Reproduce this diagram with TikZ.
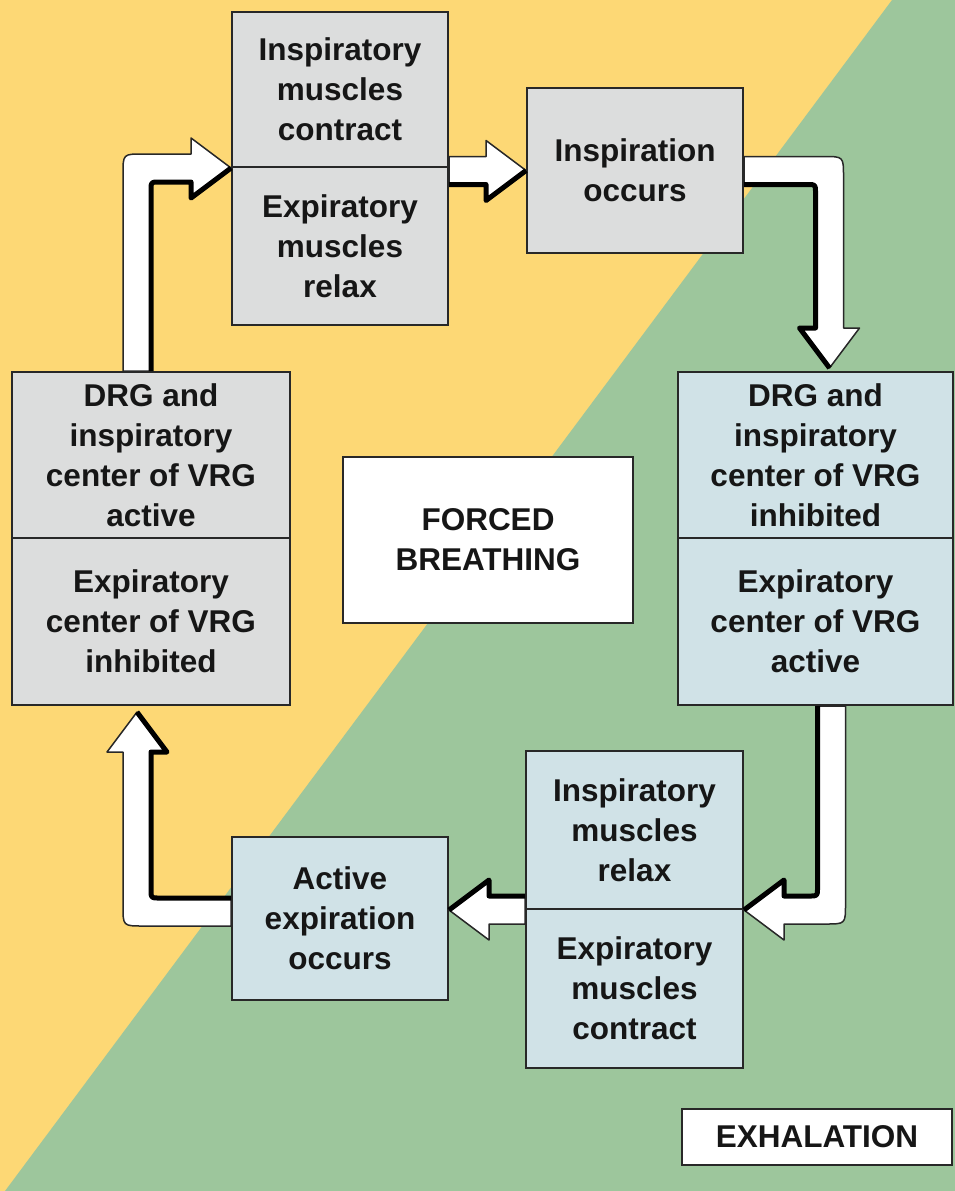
\documentclass[tikz,border=0pt]{standalone}
\usepackage{fontspec}
\usetikzlibrary{calc}
\newfontfamily\labelfont{Liberation Sans}

\definecolor{bgyellow}{RGB}{253,216,117}
\definecolor{bggreen}{RGB}{157,198,156}
\definecolor{boxgray}{RGB}{220,221,221}
\definecolor{boxblue}{RGB}{208,226,231}
\definecolor{inkc}{RGB}{22,22,22}
\definecolor{edgec}{RGB}{40,40,40}

\tikzset{
  stage/.style={draw=edgec, line width=2pt, inner sep=0pt, align=center,
    text=inkc, font={\labelfont\bfseries\fontsize{31.5}{40}\selectfont}},
  graystage/.style={stage, fill=boxgray},
  bluestage/.style={stage, fill=boxblue},
  whitestage/.style={stage, fill=white},
  arrowbody/.style={fill=white, draw=edgec, line width=1.5pt, line join=round},
  arrowedge/.style={draw=black, line width=5pt, line join=round}
}

\begin{document}
\begin{tikzpicture}[x=1pt, y=-1pt]
\useasboundingbox (0,0) rectangle (955,1191);

% two-colour background split along the diagonal
\fill[bgyellow] (0,0) rectangle (955,1191);
\fill[bggreen] (892,0) -- (955,0) -- (955,1191) -- (5,1191) -- cycle;

% stages of the cycle
\node[graystage, minimum width=216pt, minimum height=155pt] (A1) at (340,89.5)
  {Inspiratory\\muscles\\contract};
\node[graystage, minimum width=216pt, minimum height=158pt] (A2) at (340,246)
  {Expiratory\\muscles\\relax};
\node[graystage, minimum width=216pt, minimum height=165pt] (B) at (635,170.5)
  {Inspiration\\occurs};
\node[bluestage, minimum width=275pt, minimum height=166pt] (C1) at (815.5,455)
  {DRG and\\inspiratory\\center of VRG\\inhibited};
\node[bluestage, minimum width=275pt, minimum height=167pt] (C2) at (815.5,621.5)
  {Expiratory\\center of VRG\\active};
\node[graystage, minimum width=278pt, minimum height=166pt] (D1) at (151,455)
  {DRG and\\inspiratory\\center of VRG\\active};
\node[graystage, minimum width=278pt, minimum height=167pt] (D2) at (151,621.5)
  {Expiratory\\center of VRG\\inhibited};
\node[whitestage, minimum width=290pt, minimum height=166pt] (E) at (488,540)
  {FORCED\\BREATHING};
\node[bluestage, minimum width=217pt, minimum height=158pt] (F1) at (634.5,830)
  {Inspiratory\\muscles\\relax};
\node[bluestage, minimum width=217pt, minimum height=159pt] (F2) at (634.5,988.5)
  {Expiratory\\muscles\\contract};
\node[bluestage, minimum width=216pt, minimum height=163pt] (G) at (340,918.5)
  {Active\\expiration\\occurs};
\node[whitestage, minimum width=270pt, minimum height=56pt] (H) at (817,1137)
  {EXHALATION};

% connector anchors
\coordinate (s1) at ($(D1.north)+(-14,0)$);
\coordinate (t1) at (A1.south west);
\coordinate (c1) at (s1 |- t1);
\coordinate (s2) at (A1.east |- B.west);
\coordinate (t2) at (B.west);
\coordinate (s3) at (B.east);
\coordinate (t3) at ($(C1.north)+(14,-3)$);
\coordinate (c3) at (t3 |- s3);
\coordinate (s4) at ($(C2.south)+(16,0)$);
\coordinate (t4) at (F1.south east);
\coordinate (c4) at (s4 |- t4);
\coordinate (s5) at (F1.south west);
\coordinate (t5) at (G.east |- s5);
\coordinate (s6) at ($(G.west |- s5)+(0,2)$);
\coordinate (t6) at ($(D2.south)+(-14,6)$);
\coordinate (c6) at (t6 |- s6);

% D1 -> A: up, then right
\path[arrowbody] ($(s1)+(-14,0)$) -- ($(c1)+(-14,6)$)
  .. controls ($(c1)+(-14,-14)$) .. ($(c1)+(6,-14)$)
  -- ($(t1)+(-40,-14)$) -- ($(t1)+(-40,-30)$) -- (t1)
  -- ($(t1)+(-40,30)$) -- ($(t1)+(-40,14)$) -- ($(c1)+(22,14)$)
  .. controls ($(c1)+(14,14)$) .. ($(c1)+(14,22)$)
  -- ($(s1)+(14,0)$) -- cycle;
\path[arrowedge] ($(s1)+(14,0)$) -- ($(c1)+(14,22)$)
  .. controls ($(c1)+(14,14)$) .. ($(c1)+(22,14)$)
  -- ($(t1)+(-40,14)$) -- ($(t1)+(-40,30)$) -- (t1);

% A -> B
\path[arrowbody] ($(s2)+(0,-14)$) -- ($(t2)+(-40,-14)$) -- ($(t2)+(-40,-30)$)
  -- (t2) -- ($(t2)+(-40,30)$) -- ($(t2)+(-40,14)$) -- ($(s2)+(0,14)$) -- cycle;
\path[arrowedge] ($(s2)+(0,14)$) -- ($(t2)+(-40,14)$) -- ($(t2)+(-40,30)$) -- (t2);

% B -> C1: right, then down
\path[arrowbody] ($(s3)+(0,-14)$) -- ($(c3)+(-6,-14)$)
  .. controls ($(c3)+(14,-14)$) .. ($(c3)+(14,6)$)
  -- ($(t3)+(14,-40)$) -- ($(t3)+(30,-40)$) -- (t3)
  -- ($(t3)+(-30,-40)$) -- ($(t3)+(-14,-40)$) -- ($(c3)+(-14,22)$)
  .. controls ($(c3)+(-14,14)$) .. ($(c3)+(-22,14)$)
  -- ($(s3)+(0,14)$) -- cycle;
\path[arrowedge] ($(s3)+(0,14)$) -- ($(c3)+(-22,14)$)
  .. controls ($(c3)+(-14,14)$) .. ($(c3)+(-14,22)$)
  -- ($(t3)+(-14,-40)$) -- ($(t3)+(-30,-40)$) -- (t3);

% C2 -> F: down, then left
\path[arrowbody] ($(s4)+(-14,0)$) -- ($(c4)+(-14,-22)$)
  .. controls ($(c4)+(-14,-14)$) .. ($(c4)+(-22,-14)$)
  -- ($(t4)+(40,-14)$) -- ($(t4)+(40,-30)$) -- (t4)
  -- ($(t4)+(40,30)$) -- ($(t4)+(40,14)$) -- ($(c4)+(-6,14)$)
  .. controls ($(c4)+(14,14)$) .. ($(c4)+(14,-6)$)
  -- ($(s4)+(14,0)$) -- cycle;
\path[arrowedge] ($(s4)+(-14,0)$) -- ($(c4)+(-14,-22)$)
  .. controls ($(c4)+(-14,-14)$) .. ($(c4)+(-22,-14)$)
  -- ($(t4)+(40,-14)$) -- ($(t4)+(40,-30)$) -- (t4);

% F -> G
\path[arrowbody] ($(s5)+(0,-14)$) -- ($(t5)+(40,-14)$) -- ($(t5)+(40,-30)$)
  -- (t5) -- ($(t5)+(40,30)$) -- ($(t5)+(40,14)$) -- ($(s5)+(0,14)$) -- cycle;
\path[arrowedge] ($(s5)+(0,-14)$) -- ($(t5)+(40,-14)$) -- ($(t5)+(40,-30)$) -- (t5);

% G -> D2: left, then up
\path[arrowbody] ($(s6)+(0,-14)$) -- ($(c6)+(22,-14)$)
  .. controls ($(c6)+(14,-14)$) .. ($(c6)+(14,-22)$)
  -- ($(t6)+(14,40)$) -- ($(t6)+(30,40)$) -- (t6)
  -- ($(t6)+(-30,40)$) -- ($(t6)+(-14,40)$) -- ($(c6)+(-14,-6)$)
  .. controls ($(c6)+(-14,14)$) .. ($(c6)+(6,14)$)
  -- ($(s6)+(0,14)$) -- cycle;
\path[arrowedge] ($(s6)+(0,-14)$) -- ($(c6)+(22,-14)$)
  .. controls ($(c6)+(14,-14)$) .. ($(c6)+(14,-22)$)
  -- ($(t6)+(14,40)$) -- ($(t6)+(30,40)$) -- (t6);
\end{tikzpicture}
\end{document}
